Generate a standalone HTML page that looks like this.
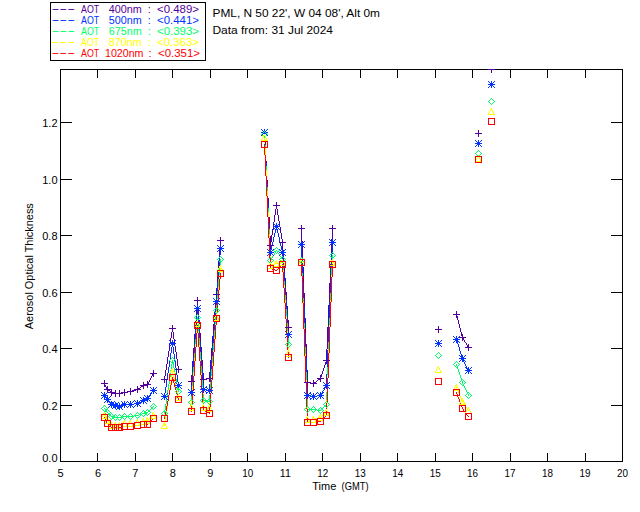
<!DOCTYPE html>
<html lang="en"><head><meta charset="utf-8"><title>Aerosol Optical Thickness - PML</title>
<style>
html,body{margin:0;padding:0;background:#fff;}
body{width:640px;height:512px;overflow:hidden;}
svg{display:block;font-family:"Liberation Sans",sans-serif;font-size:11px;fill:#000;}
.ln{fill:none;stroke-width:1;shape-rendering:crispEdges;stroke-linecap:butt;}
</style></head><body>
<svg width="640" height="512" viewBox="0 0 640 512">
<rect width="640" height="512" fill="#fff"/>
<path id="axes" class="ln" stroke="#000000" d="M50 2.5h156M50 60.5h156M60 69.5h428M495 69.5h127M61 122.5h11M611 122.5h11M61 179.5h11M611 179.5h11M61 235.5h11M611 235.5h11M61 292.5h11M611 292.5h11M61 348.5h11M611 348.5h11M61 405.5h11M611 405.5h11M60 461.5h563M50.5 3v57M60.5 70v391M97.5 70v8M97.5 453v8M135.5 70v8M135.5 453v8M172.5 70v8M172.5 453v8M205.5 3v57M210.5 70v8M210.5 453v8M247.5 70v8M247.5 453v8M285.5 70v8M285.5 453v8M322.5 70v8M322.5 453v8M360.5 70v8M360.5 453v8M397.5 70v8M397.5 453v8M435.5 70v8M435.5 453v8M472.5 70v8M472.5 453v8M510.5 70v8M510.5 453v8M547.5 70v8M547.5 453v8M585.5 70v8M585.5 453v8M622.5 69v392"/>
<path id="aot400" class="ln" stroke="#55009a" d="M488 69.5h7M475 133.5h7M265 142.5h1M273 205.5h7M273 222.5h1M298 228.5h3M302 228.5h3M329 228.5h3M333 228.5h3M217 240.5h3M221 240.5h3M279 242.5h3M283 242.5h3M267 245.5h3M271 245.5h3M283 250.5h1M283 258.5h1M330 264.5h1M284 266.5h1M330 266.5h1M213 294.5h3M217 294.5h3M194 300.5h3M198 300.5h3M453 314.5h7M214 316.5h1M214 319.5h1M195 321.5h1M199 323.5h1M195 325.5h1M195 327.5h1M199 327.5h1M285 327.5h3M289 327.5h3M169 328.5h7M435 329.5h7M459 337.5h7M170 342.5h1M174 342.5h1M465 342.5h1M174 344.5h1M465 347.5h7M323 360.5h3M327 360.5h3M175 369.5h7M150 373.5h7M206 378.5h3M210 378.5h3M317 378.5h7M161 379.5h7M200 379.5h3M204 379.5h3M318 379.5h2M317 380.5h1M188 381.5h3M192 381.5h3M316 381.5h1M304 382.5h3M308 382.5h3M314 382.5h2M101 383.5h7M310 383.5h7M143 384.5h8M105 385.5h1M140 385.5h8M105 386.5h1M141 386.5h2M140 387.5h1M138 388.5h2M104 389.5h8M134 389.5h7M108 390.5h2M132 390.5h4M110 391.5h1M127 391.5h7M108 392.5h8M121 392.5h7M111 393.5h12M104.5 380v3M104.5 384v3M106.5 387v2M107.5 386v3M107.5 390v2M111.5 390v2M111.5 394v2M115.5 390v2M115.5 394v3M119.5 390v3M119.5 394v3M124.5 389v3M124.5 393v3M130.5 388v3M130.5 392v3M137.5 386v3M137.5 390v3M143.5 382v2M143.5 386v3M147.5 381v3M147.5 386v2M148.5 382v2M149.5 380v2M150.5 378v2M151.5 376v2M152.5 374v2M153.5 370v3M153.5 374v3M164.5 376v3M164.5 380v3M165.5 370v6M166.5 364v6M167.5 357v7M168.5 351v6M169.5 344v2M169.5 347v4M170.5 338v3M171.5 332v6M172.5 325v3M172.5 329v3M173.5 332v7M174.5 339v2M175.5 347v5M176.5 352v7M177.5 359v7M178.5 366v3M178.5 370v3M191.5 375v10M192.5 361v10M193.5 348v9M194.5 334v9M196.5 310v5M197.5 297v8M198.5 310v5M199.5 320v2M200.5 333v9M201.5 347v9M202.5 360v9M203.5 373v10M209.5 372v10M210.5 360v11M211.5 348v11M212.5 336v10M213.5 324v9M214.5 312v3M215.5 303v5M216.5 288v10M217.5 277v5M218.5 261v7M219.5 250v5M220.5 237v8M266.5 161v2M267.5 180v3M268.5 198v5M269.5 217v6M270.5 236v13M271.5 235v7M272.5 229v6M273.5 224v2M273.5 227v2M274.5 215v7M275.5 209v6M276.5 202v3M276.5 206v3M277.5 209v6M278.5 215v6M279.5 221v2M279.5 224v2M280.5 227v6M281.5 233v6M282.5 239v10M283.5 254v3M284.5 268v5M285.5 278v9M286.5 292v8M287.5 306v8M288.5 320v11M301.5 225v16M302.5 241v2M302.5 246v11M303.5 267v15M304.5 293v14M305.5 318v15M306.5 344v14M307.5 370v16M313.5 380v3M313.5 384v3M320.5 375v3M320.5 379v3M321.5 374v3M322.5 371v3M323.5 368v3M324.5 365v3M325.5 362v3M326.5 349v15M327.5 327v22M328.5 305v21M329.5 283v19M330.5 268v10M331.5 239v2M331.5 244v9M332.5 225v14M438.5 326v3M438.5 330v3M456.5 311v3M456.5 315v3M457.5 316v4M458.5 320v4M459.5 324v4M460.5 328v4M461.5 332v4M462.5 334v3M462.5 338v3M463.5 338v2M464.5 340v2M466.5 343v2M467.5 345v2M468.5 344v3M468.5 348v3M478.5 130v3M478.5 134v3M491.5 70v3"/>
<path id="aot500" class="ln" stroke="#0033ff" d="M488 81.5h1M494 81.5h1M489 82.5h1M493 82.5h1M490 83.5h1M492 83.5h1M488 84.5h7M490 85.5h1M492 85.5h1M489 86.5h1M493 86.5h1M488 87.5h1M494 87.5h1M261 129.5h1M267 129.5h1M262 130.5h1M266 130.5h1M263 131.5h1M265 131.5h1M261 132.5h2M266 132.5h2M263 133.5h3M262 134.5h1M266 134.5h1M261 135.5h1M267 135.5h1M475 140.5h1M481 140.5h1M476 141.5h1M480 141.5h1M477 142.5h1M479 142.5h1M475 143.5h7M477 144.5h1M479 144.5h1M476 145.5h1M480 145.5h1M475 146.5h1M481 146.5h1M273 223.5h1M279 223.5h1M274 224.5h1M278 224.5h1M275 225.5h1M277 225.5h1M273 226.5h7M275 227.5h1M277 227.5h1M274 228.5h1M278 228.5h1M273 229.5h1M279 229.5h1M329 239.5h1M335 239.5h1M330 240.5h1M334 240.5h1M298 241.5h1M304 241.5h1M331 241.5h1M333 241.5h1M299 242.5h1M303 242.5h1M329 242.5h3M333 242.5h3M300 243.5h1M302 243.5h1M331 243.5h1M333 243.5h1M298 244.5h3M302 244.5h3M330 244.5h1M334 244.5h1M217 245.5h1M223 245.5h1M300 245.5h1M302 245.5h1M329 245.5h1M335 245.5h1M218 246.5h1M222 246.5h1M299 246.5h1M303 246.5h1M219 247.5h1M221 247.5h1M298 247.5h1M304 247.5h1M217 248.5h3M221 248.5h3M219 249.5h1M221 249.5h1M267 249.5h1M273 249.5h1M279 249.5h1M285 249.5h1M218 250.5h1M222 250.5h1M268 250.5h1M272 250.5h1M280 250.5h1M284 250.5h1M217 251.5h1M223 251.5h1M269 251.5h1M271 251.5h1M281 251.5h1M283 251.5h1M267 252.5h7M279 252.5h7M269 253.5h1M271 253.5h1M281 253.5h1M283 253.5h1M332 253.5h1M268 254.5h1M272 254.5h1M280 254.5h1M284 254.5h1M267 255.5h1M273 255.5h1M279 255.5h1M285 255.5h1M302 257.5h1M302 260.5h1M283 266.5h1M331 266.5h1M213 298.5h1M219 298.5h1M214 299.5h1M218 299.5h1M215 300.5h1M217 300.5h1M213 301.5h7M215 302.5h1M217 302.5h1M214 303.5h1M218 303.5h1M213 304.5h1M219 304.5h1M194 305.5h1M200 305.5h1M195 306.5h1M199 306.5h1M196 307.5h1M198 307.5h1M194 308.5h3M198 308.5h3M196 309.5h1M198 309.5h1M195 310.5h1M199 310.5h1M194 311.5h1M200 311.5h1M196 320.5h1M285 331.5h1M291 331.5h1M286 332.5h1M290 332.5h1M287 333.5h1M289 333.5h1M285 334.5h7M287 335.5h1M289 335.5h1M286 336.5h1M290 336.5h1M453 336.5h1M459 336.5h1M285 337.5h1M291 337.5h1M454 337.5h1M458 337.5h1M455 338.5h1M453 339.5h7M169 340.5h1M175 340.5h1M435 340.5h1M441 340.5h1M455 340.5h1M170 341.5h1M174 341.5h1M436 341.5h1M440 341.5h1M454 341.5h1M458 341.5h1M171 342.5h1M173 342.5h1M437 342.5h1M439 342.5h1M453 342.5h1M459 342.5h1M169 343.5h7M435 343.5h7M171 344.5h1M173 344.5h1M437 344.5h1M439 344.5h1M170 345.5h1M174 345.5h1M436 345.5h1M440 345.5h1M169 346.5h1M175 346.5h1M435 346.5h1M441 346.5h1M459 355.5h1M465 355.5h1M460 356.5h1M464 356.5h1M459 358.5h7M174 360.5h1M460 360.5h1M464 360.5h1M459 361.5h1M465 361.5h1M465 367.5h1M471 367.5h1M176 368.5h1M466 368.5h1M470 368.5h1M469 369.5h1M465 370.5h7M469 371.5h1M466 372.5h1M470 372.5h1M465 373.5h1M471 373.5h1M175 382.5h1M181 382.5h1M323 382.5h1M329 382.5h1M176 383.5h1M180 383.5h1M324 383.5h1M328 383.5h1M177 384.5h1M179 384.5h1M327 384.5h1M175 385.5h7M323 385.5h3M327 385.5h3M177 386.5h1M179 386.5h1M200 386.5h1M327 386.5h1M150 387.5h1M156 387.5h1M176 387.5h1M180 387.5h1M201 387.5h1M205 387.5h2M212 387.5h1M324 387.5h1M328 387.5h1M151 388.5h1M155 388.5h1M175 388.5h1M181 388.5h1M202 388.5h1M204 388.5h1M207 388.5h1M211 388.5h1M323 388.5h1M329 388.5h1M152 389.5h1M154 389.5h1M188 389.5h1M194 389.5h1M200 389.5h3M204 389.5h3M208 389.5h1M210 389.5h1M150 390.5h7M189 390.5h1M193 390.5h1M202 390.5h1M204 390.5h1M206 390.5h3M210 390.5h3M323 390.5h1M152 391.5h1M154 391.5h1M190 391.5h1M192 391.5h1M201 391.5h1M205 391.5h1M208 391.5h1M210 391.5h1M101 392.5h1M107 392.5h1M155 392.5h1M188 392.5h3M192 392.5h3M200 392.5h1M206 392.5h2M211 392.5h1M304 392.5h1M317 392.5h1M323 392.5h1M102 393.5h1M106 393.5h1M151 393.5h1M156 393.5h1M161 393.5h1M167 393.5h1M190 393.5h1M192 393.5h1M212 393.5h1M305 393.5h1M309 393.5h2M316 393.5h1M318 393.5h1M322 393.5h1M103 394.5h1M162 394.5h1M166 394.5h1M189 394.5h1M193 394.5h1M306 394.5h1M308 394.5h1M311 394.5h1M315 394.5h1M319 394.5h1M101 395.5h3M105 395.5h2M144 395.5h1M149 395.5h1M163 395.5h1M165 395.5h1M188 395.5h1M194 395.5h1M304 395.5h3M308 395.5h3M312 395.5h1M314 395.5h1M317 395.5h7M103 396.5h1M110 396.5h1M145 396.5h1M149 396.5h1M161 396.5h7M306 396.5h1M308 396.5h1M310 396.5h7M319 396.5h1M102 397.5h1M105 397.5h2M109 397.5h1M140 397.5h1M163 397.5h1M165 397.5h1M305 397.5h1M309 397.5h1M312 397.5h1M314 397.5h1M318 397.5h1M322 397.5h1M101 398.5h1M141 398.5h1M143 398.5h8M162 398.5h1M166 398.5h1M304 398.5h1M310 398.5h2M315 398.5h1M317 398.5h1M323 398.5h1M105 399.5h2M108 399.5h3M142 399.5h7M161 399.5h1M167 399.5h1M316 399.5h1M134 400.5h1M140 400.5h8M149 400.5h1M105 401.5h1M109 401.5h1M114 401.5h1M121 401.5h1M127 401.5h1M133 401.5h1M135 401.5h1M141 401.5h2M144 401.5h1M150 401.5h1M104 402.5h1M109 402.5h2M112 402.5h1M118 402.5h1M126 402.5h1M128 402.5h1M132 402.5h1M136 402.5h1M138 402.5h4M145 402.5h1M110 403.5h1M112 403.5h1M123 403.5h1M125 403.5h1M129 403.5h1M131 403.5h1M134 403.5h7M146 403.5h1M108 404.5h10M121 404.5h13M136 404.5h1M138 404.5h1M110 405.5h16M129 405.5h1M131 405.5h1M135 405.5h1M139 405.5h1M109 406.5h1M113 406.5h10M126 406.5h1M128 406.5h1M132 406.5h1M134 406.5h1M140 406.5h1M108 407.5h1M118 407.5h1M120 407.5h2M127 407.5h1M133 407.5h1M112 408.5h1M116 409.5h1M122 409.5h1M104.5 392v8M105.5 394v1M105.5 396v1M106.5 398v1M106.5 400v1M107.5 395v8M108.5 398v1M108.5 400v2M111.5 401v3M111.5 406v2M113.5 402v2M113.5 407v1M114.5 407v1M115.5 402v2M115.5 407v2M116.5 403v1M117.5 403v1M117.5 407v2M118.5 408v1M119.5 403v2M119.5 407v3M121.5 408v1M122.5 402v2M124.5 401v3M124.5 406v2M130.5 401v3M130.5 405v3M137.5 400v3M137.5 404v3M139.5 401v1M143.5 397v1M143.5 401v3M146.5 397v1M147.5 395v3M147.5 401v1M148.5 396v2M150.5 393v3M151.5 392v1M153.5 387v3M153.5 391v3M164.5 393v3M164.5 397v3M165.5 387v6M166.5 380v7M167.5 373v6M168.5 367v6M169.5 361v6M170.5 353v6M171.5 347v6M172.5 340v3M172.5 344v3M173.5 347v7M174.5 354v5M175.5 361v7M176.5 370v5M177.5 375v7M178.5 382v3M178.5 386v2M191.5 385v11M192.5 371v10M193.5 357v10M194.5 343v10M195.5 329v10M196.5 316v3M196.5 323v2M197.5 305v9M198.5 316v3M198.5 320v2M199.5 329v9M200.5 342v10M201.5 356v10M202.5 369v10M203.5 383v10M206.5 386v1M206.5 393v1M209.5 384v10M210.5 371v7M210.5 379v3M211.5 359v10M212.5 346v10M213.5 333v10M214.5 322v8M215.5 309v3M215.5 313v2M216.5 298v3M216.5 302v3M217.5 282v9M218.5 272v4M218.5 277v2M219.5 255v2M219.5 258v3M219.5 262v4M220.5 245v10M264.5 129v2M264.5 132v1M265.5 143v2M266.5 163v3M267.5 183v4M268.5 203v5M269.5 223v6M270.5 249v3M270.5 253v3M271.5 246v4M272.5 242v3M273.5 237v5M274.5 233v4M275.5 229v4M276.5 223v3M276.5 227v3M277.5 229v4M278.5 233v4M279.5 237v5M280.5 243v3M281.5 246v4M282.5 249v3M282.5 253v3M282.5 257v2M283.5 259v2M283.5 263v2M284.5 273v8M285.5 287v8M286.5 300v9M287.5 314v9M288.5 331v3M288.5 335v3M301.5 241v16M302.5 263v2M302.5 266v7M303.5 282v16M304.5 307v16M305.5 333v14M306.5 358v14M307.5 386v13M310.5 392v1M310.5 399v1M313.5 393v3M313.5 397v3M320.5 392v3M320.5 396v3M321.5 393v2M321.5 396v1M322.5 391v2M324.5 388v2M325.5 384v1M325.5 386v2M326.5 374v15M327.5 350v10M327.5 361v6M328.5 326v16M329.5 302v16M330.5 278v15M331.5 254v3M331.5 258v2M331.5 262v3M332.5 239v13M438.5 340v3M438.5 344v3M456.5 336v3M456.5 340v3M457.5 338v1M457.5 340v4M458.5 344v3M459.5 347v4M460.5 351v3M461.5 354v4M461.5 359v1M462.5 355v3M462.5 359v3M463.5 357v1M463.5 359v3M464.5 362v2M465.5 364v2M466.5 366v2M467.5 368v2M467.5 371v1M468.5 367v3M468.5 371v3M478.5 140v3M478.5 144v3M491.5 81v3M491.5 85v3"/>
<path id="aot675" class="ln" stroke="#00ff6a" d="M491 98.5h1M490 99.5h1M492 99.5h1M489 100.5h1M493 100.5h1M488 101.5h1M494 101.5h1M489 102.5h1M493 102.5h1M490 103.5h1M492 103.5h1M491 104.5h1M264 131.5h1M263 132.5h1M265 132.5h1M262 133.5h1M266 133.5h1M261 134.5h1M267 134.5h1M262 135.5h1M266 135.5h1M478 150.5h1M477 151.5h1M479 151.5h1M476 152.5h1M480 152.5h1M475 153.5h1M481 153.5h1M476 154.5h1M480 154.5h1M477 155.5h1M479 155.5h1M276 247.5h1M275 248.5h1M277 248.5h1M274 249.5h1M278 249.5h1M273 250.5h1M276 250.5h1M279 250.5h1M274 251.5h2M277 251.5h2M332 252.5h1M276 253.5h1M278 253.5h1M331 253.5h1M333 253.5h1M279 254.5h1M330 254.5h1M334 254.5h1M329 255.5h1M335 255.5h1M220 256.5h1M280 256.5h1M282 256.5h1M330 256.5h1M334 256.5h1M219 257.5h1M221 257.5h1M270 257.5h1M283 257.5h1M301 257.5h1M331 257.5h1M333 257.5h1M218 258.5h1M222 258.5h1M269 258.5h1M280 258.5h2M284 258.5h1M300 258.5h1M302 258.5h1M217 259.5h1M223 259.5h1M268 259.5h1M271 259.5h2M279 259.5h1M285 259.5h1M218 260.5h1M222 260.5h1M267 260.5h1M273 260.5h1M280 260.5h1M284 260.5h1M219 261.5h1M221 261.5h1M268 261.5h1M272 261.5h1M299 261.5h1M301 261.5h1M303 261.5h1M269 262.5h1M271 262.5h1M282 262.5h1M300 262.5h1M301 263.5h1M215 308.5h1M217 308.5h1M214 309.5h1M218 309.5h1M213 310.5h1M219 310.5h1M214 311.5h1M218 311.5h1M215 312.5h1M217 312.5h1M216 313.5h1M197 314.5h1M196 315.5h1M198 315.5h1M195 316.5h1M199 316.5h1M194 317.5h1M200 317.5h1M195 318.5h1M199 318.5h1M196 319.5h3M196 325.5h1M196 327.5h1M198 327.5h1M196 329.5h1M287 342.5h1M289 342.5h1M286 343.5h1M290 343.5h1M285 344.5h1M291 344.5h1M286 345.5h1M290 345.5h1M287 346.5h1M289 346.5h1M288 347.5h1M438 352.5h1M437 353.5h1M439 353.5h1M436 354.5h1M440 354.5h1M435 355.5h1M441 355.5h1M436 356.5h1M440 356.5h1M172 357.5h1M437 357.5h1M439 357.5h1M171 358.5h1M173 358.5h1M438 358.5h1M170 359.5h1M174 359.5h1M169 360.5h1M175 360.5h1M170 361.5h1M174 361.5h1M456 361.5h1M171 362.5h1M455 362.5h1M457 362.5h1M454 363.5h1M458 363.5h1M453 364.5h1M459 364.5h1M454 365.5h1M458 365.5h1M455 366.5h1M456 367.5h1M170 370.5h1M170 373.5h1M175 373.5h1M462 379.5h1M463 380.5h1M460 381.5h1M464 381.5h1M459 382.5h1M465 382.5h1M460 383.5h1M464 383.5h1M461 384.5h1M462 385.5h2M177 389.5h1M179 389.5h1M176 390.5h1M180 390.5h1M175 391.5h1M181 391.5h1M176 392.5h1M180 392.5h1M467 392.5h2M177 393.5h1M179 393.5h1M469 393.5h1M466 394.5h1M470 394.5h1M465 395.5h1M471 395.5h1M466 396.5h1M470 396.5h1M166 397.5h1M467 397.5h1M469 397.5h1M202 398.5h1M204 398.5h1M468 398.5h1M201 399.5h1M208 399.5h1M210 399.5h1M190 400.5h1M192 400.5h1M200 400.5h1M204 400.5h4M211 400.5h1M189 401.5h1M193 401.5h1M201 401.5h1M205 401.5h4M212 401.5h1M326 401.5h1M188 402.5h1M194 402.5h1M202 402.5h1M204 402.5h1M211 402.5h1M325 402.5h1M327 402.5h1M153 403.5h1M189 403.5h1M193 403.5h1M203 403.5h1M208 403.5h1M210 403.5h1M324 403.5h1M328 403.5h1M152 404.5h1M154 404.5h1M190 404.5h1M192 404.5h1M209 404.5h1M323 404.5h1M329 404.5h1M104 405.5h1M151 405.5h1M155 405.5h1M324 405.5h2M328 405.5h1M103 406.5h1M105 406.5h1M150 406.5h1M153 406.5h1M156 406.5h1M313 406.5h1M324 406.5h2M327 406.5h1M102 407.5h1M106 407.5h1M151 407.5h2M155 407.5h1M306 407.5h1M308 407.5h1M312 407.5h1M314 407.5h1M320 407.5h1M323 407.5h1M326 407.5h1M101 408.5h1M104 408.5h1M151 408.5h2M154 408.5h1M305 408.5h1M319 408.5h1M321 408.5h2M102 409.5h1M105 409.5h3M147 409.5h1M150 409.5h1M153 409.5h1M304 409.5h1M308 409.5h9M321 409.5h2M103 410.5h1M108 410.5h1M143 410.5h1M146 410.5h1M148 410.5h2M305 410.5h1M317 410.5h4M323 410.5h1M104 411.5h3M109 411.5h1M142 411.5h1M148 411.5h2M163 411.5h1M165 411.5h1M306 411.5h1M308 411.5h1M312 411.5h1M314 411.5h1M322 411.5h1M107 412.5h1M110 412.5h1M137 412.5h1M141 412.5h1M144 412.5h4M150 412.5h1M162 412.5h1M166 412.5h1M307 412.5h1M313 412.5h1M319 412.5h1M321 412.5h1M105 413.5h1M108 413.5h1M111 413.5h1M124 413.5h1M130 413.5h1M136 413.5h1M138 413.5h1M142 413.5h5M149 413.5h1M161 413.5h1M167 413.5h1M320 413.5h1M108 414.5h3M112 414.5h1M115 414.5h1M119 414.5h1M123 414.5h1M125 414.5h1M129 414.5h1M131 414.5h1M139 414.5h3M148 414.5h1M162 414.5h1M166 414.5h1M110 415.5h1M116 415.5h1M118 415.5h1M120 415.5h1M134 415.5h5M142 415.5h1M144 415.5h1M147 415.5h1M108 416.5h1M111 416.5h4M121 416.5h13M139 416.5h1M143 416.5h1M164 416.5h1M109 417.5h1M112 417.5h11M136 417.5h1M138 417.5h1M110 418.5h1M123 418.5h1M125 418.5h1M129 418.5h1M131 418.5h1M137 418.5h1M111 419.5h1M114 419.5h1M116 419.5h1M118 419.5h1M120 419.5h1M124 419.5h1M130 419.5h1M115 420.5h1M119 420.5h1M105.5 410v1M106.5 410v1M107.5 408v1M109.5 413v1M109.5 415v1M112.5 418v1M113.5 415v1M113.5 418v1M114.5 415v1M117.5 416v1M117.5 418v1M121.5 418v1M122.5 415v1M126.5 415v1M126.5 417v1M128.5 415v1M128.5 417v1M132.5 415v1M132.5 417v1M135.5 414v1M135.5 416v1M140.5 413v1M140.5 415v1M144.5 411v1M145.5 411v1M145.5 414v1M146.5 414v1M164.5 410v4M165.5 404v6M166.5 399v5M167.5 390v3M167.5 394v2M168.5 384v6M169.5 381v3M170.5 375v2M171.5 364v5M172.5 360v4M173.5 362v6M174.5 368v4M176.5 379v4M177.5 387v2M178.5 388v4M191.5 396v4M192.5 382v4M193.5 367v5M194.5 353v5M195.5 339v5M197.5 317v2M198.5 324v2M198.5 329v2M199.5 338v7M200.5 352v7M201.5 366v7M202.5 380v7M203.5 394v7M205.5 399v1M207.5 402v1M209.5 395v7M210.5 382v7M211.5 369v7M212.5 356v7M213.5 343v7M214.5 330v7M215.5 317v3M215.5 322v2M216.5 305v6M217.5 291v3M217.5 295v4M218.5 279v8M219.5 268v2M219.5 272v3M220.5 259v6M264.5 136v2M265.5 145v2M266.5 166v4M267.5 187v4M268.5 208v4M269.5 229v5M271.5 258v1M272.5 256v2M274.5 253v2M275.5 252v1M277.5 252v1M281.5 257v1M283.5 268v2M284.5 281v4M285.5 295v5M286.5 309v7M287.5 323v4M287.5 328v3M288.5 338v7M302.5 273v3M303.5 298v4M304.5 323v5M305.5 347v7M306.5 372v8M307.5 399v8M309.5 408v1M309.5 410v1M311.5 408v1M311.5 410v1M315.5 408v1M315.5 410v1M318.5 409v1M318.5 411v1M326.5 392v8M327.5 367v8M328.5 342v8M329.5 318v7M330.5 293v7M331.5 268v7M332.5 255v4M456.5 364v2M457.5 366v3M458.5 369v3M459.5 372v3M460.5 375v3M461.5 378v3M462.5 381v3M463.5 384v1M464.5 386v2M465.5 388v2M466.5 390v2M467.5 393v1M468.5 394v2"/>
<path id="aot870" class="ln" stroke="#ffff00" d="M490 109.5h2M488 114.5h7M263 135.5h2M261 140.5h7M478 155.5h1M477 157.5h1M476 161.5h5M270 256.5h1M281 260.5h2M300 260.5h2M331 260.5h2M276 261.5h1M280 262.5h2M283 262.5h1M332 262.5h2M269 263.5h2M274 263.5h5M282 263.5h1M271 264.5h4M280 265.5h5M330 265.5h5M219 266.5h2M268 266.5h1M274 266.5h5M220 268.5h2M268 268.5h5M222 269.5h1M218 271.5h5M219 275.5h1M217 299.5h1M303 302.5h1M216 314.5h1M215 316.5h1M214 320.5h5M196 321.5h2M197 323.5h2M215 324.5h1M195 326.5h5M304 328.5h1M288 346.5h1M287 351.5h1M286 353.5h1M286 356.5h5M437 367.5h2M171 369.5h2M173 371.5h1M435 372.5h7M169 373.5h1M211 379.5h1M174 381.5h1M455 385.5h2M175 386.5h1M202 387.5h1M456 387.5h2M458 388.5h1M454 390.5h5M210 392.5h1M177 395.5h2M178 397.5h2M176 400.5h5M326 400.5h1M461 400.5h1M168 401.5h1M326 402.5h1M459 404.5h7M190 405.5h1M202 405.5h2M204 406.5h1M209 406.5h1M189 407.5h1M466 407.5h1M201 408.5h1M207 408.5h1M467 408.5h2M211 409.5h1M189 410.5h5M201 410.5h5M325 410.5h2M468 410.5h2M166 411.5h1M207 411.5h5M327 411.5h1M465 412.5h1M103 413.5h2M152 413.5h2M166 413.5h1M325 413.5h1M154 414.5h1M104 415.5h1M320 415.5h1M322 415.5h1M324 415.5h5M152 416.5h1M306 417.5h2M312 417.5h2M318 417.5h4M102 418.5h5M147 418.5h1M149 418.5h1M151 418.5h5M308 418.5h1M314 418.5h3M108 419.5h1M142 419.5h2M136 420.5h2M144 420.5h5M305 420.5h1M311 420.5h1M318 420.5h5M105 421.5h1M108 421.5h1M123 421.5h2M129 421.5h2M138 421.5h1M125 422.5h1M131 422.5h1M141 422.5h1M305 422.5h5M311 422.5h5M105 423.5h5M114 423.5h2M118 423.5h2M135 423.5h1M147 423.5h3M163 423.5h1M128 424.5h1M141 424.5h3M163 424.5h1M165 424.5h1M109 425.5h1M111 425.5h1M115 425.5h1M119 425.5h2M135 425.5h5M165 425.5h1M123 426.5h4M128 426.5h5M109 428.5h3M115 428.5h1M119 428.5h2M161 428.5h7M102.5 415v2M104.5 412v1M105.5 415v3M106.5 416v2M106.5 419v1M109.5 421v2M111.5 422v2M113.5 425v4M115.5 422v1M117.5 425v4M119.5 422v1M123.5 422v1M124.5 420v1M126.5 424v2M129.5 422v1M130.5 420v1M132.5 424v2M136.5 421v1M137.5 419v1M139.5 423v2M142.5 420v1M143.5 418v1M145.5 422v3M146.5 418v2M147.5 417v1M148.5 419v1M149.5 422v1M151.5 416v2M152.5 414v1M153.5 412v1M155.5 416v2M161.5 427v1M162.5 425v2M164.5 422v4M165.5 416v5M166.5 426v2M167.5 406v3M169.5 388v2M170.5 371v2M170.5 382v3M171.5 370v1M171.5 375v5M172.5 368v1M172.5 371v3M173.5 370v1M173.5 375v3M174.5 372v2M174.5 378v2M175.5 383v2M176.5 388v2M176.5 397v2M177.5 391v2M178.5 394v1M180.5 398v2M190.5 406v1M191.5 400v6M192.5 386v4M192.5 406v2M193.5 372v4M193.5 409v1M194.5 358v3M195.5 323v2M195.5 344v3M196.5 330v3M197.5 320v1M197.5 324v1M198.5 331v2M199.5 324v2M199.5 345v2M200.5 359v2M201.5 373v2M202.5 406v1M203.5 401v2M203.5 404v1M205.5 408v2M207.5 409v1M208.5 406v3M209.5 402v2M209.5 405v1M210.5 407v2M211.5 376v2M212.5 363v3M213.5 350v2M214.5 317v2M214.5 337v2M216.5 311v2M217.5 316v2M218.5 268v2M218.5 287v3M218.5 318v2M219.5 267v1M219.5 277v2M220.5 265v1M220.5 269v1M220.5 272v1M221.5 267v1M261.5 139v1M262.5 137v2M263.5 136v1M264.5 134v1M264.5 138v2M264.5 142v2M265.5 136v2M265.5 148v7M266.5 138v2M266.5 170v6M267.5 191v5M268.5 212v5M269.5 234v4M269.5 264v1M270.5 262v1M272.5 266v2M275.5 261v2M276.5 260v1M277.5 262v1M278.5 264v2M280.5 263v1M282.5 259v1M283.5 270v2M284.5 263v2M284.5 285v3M285.5 300v3M286.5 316v3M287.5 331v2M287.5 352v1M288.5 348v4M289.5 352v2M290.5 355v1M299.5 262v2M300.5 261v1M302.5 261v2M303.5 263v2M305.5 354v2M306.5 380v2M306.5 418v1M307.5 407v2M307.5 416v1M309.5 420v2M312.5 418v1M313.5 416v1M315.5 420v2M319.5 415v2M320.5 414v1M321.5 416v1M322.5 419v1M324.5 413v2M325.5 411v1M326.5 409v1M327.5 375v3M328.5 350v3M328.5 413v2M329.5 325v2M330.5 262v2M330.5 300v2M331.5 275v2M332.5 259v1M332.5 263v1M334.5 263v2M435.5 371v1M436.5 369v2M437.5 368v1M438.5 366v1M439.5 368v2M440.5 370v2M454.5 387v2M455.5 386v1M456.5 384v1M456.5 388v1M457.5 386v1M458.5 391v2M459.5 403v1M460.5 396v2M460.5 401v2M461.5 398v2M462.5 398v4M463.5 400v4M464.5 402v2M466.5 410v2M467.5 409v1M468.5 407v1M469.5 409v1M470.5 411v2M476.5 158v2M479.5 157v2M480.5 159v2M488.5 113v1M489.5 111v2M490.5 110v1M491.5 108v1M492.5 110v2M493.5 112v2"/>
<path id="aot1020" class="ln" stroke="#ff0000" d="M488 118.5h7M488 124.5h7M261 141.5h7M261 147.5h3M265 147.5h3M475 156.5h7M475 162.5h7M298 259.5h7M280 261.5h6M329 261.5h7M301 262.5h1M282 264.5h1M332 264.5h1M267 265.5h6M298 265.5h3M302 265.5h3M280 266.5h1M273 267.5h13M329 267.5h3M333 267.5h3M278 268.5h1M272 269.5h1M274 269.5h1M277 269.5h1M217 270.5h7M275 270.5h2M267 271.5h6M274 273.5h5M217 276.5h7M218 300.5h1M213 315.5h7M213 321.5h7M194 322.5h7M197 325.5h1M194 328.5h7M286 333.5h1M285 354.5h7M288 357.5h1M285 360.5h7M169 374.5h7M435 378.5h7M212 379.5h1M169 380.5h7M435 384.5h7M175 387.5h1M201 388.5h1M175 389.5h1M211 389.5h1M453 389.5h7M192 390.5h1M176 391.5h1M211 391.5h1M176 393.5h1M177 394.5h1M453 395.5h7M175 396.5h7M175 402.5h7M460 403.5h1M459 405.5h7M200 407.5h6M188 408.5h7M306 408.5h1M326 408.5h1M207 410.5h6M191 411.5h1M205 411.5h1M459 411.5h7M207 412.5h3M324 412.5h6M200 413.5h6M465 413.5h7M101 414.5h7M188 414.5h7M466 414.5h1M151 415.5h6M161 415.5h7M467 415.5h1M207 416.5h6M325 416.5h1M468 416.5h1M104 417.5h1M324 417.5h1M317 418.5h13M152 419.5h1M304 419.5h14M465 419.5h7M101 420.5h10M151 420.5h1M140 421.5h17M161 421.5h7M318 421.5h3M134 422.5h6M121 423.5h14M108 424.5h15M147 424.5h1M316 424.5h7M304 425.5h13M104 426.5h7M111 427.5h1M115 427.5h1M119 427.5h2M140 427.5h10M133 428.5h8M121 429.5h13M108 430.5h15M101.5 415v5M104.5 421v5M105.5 419v1M106.5 421v2M107.5 415v5M108.5 425v1M108.5 427v3M110.5 421v3M110.5 425v1M112.5 425v5M114.5 425v5M116.5 425v5M118.5 425v5M121.5 425v4M122.5 425v4M127.5 424v5M133.5 424v4M134.5 424v4M140.5 422v5M144.5 422v5M146.5 422v5M150.5 415v6M150.5 422v6M156.5 416v5M161.5 416v5M164.5 417v2M165.5 412v3M166.5 406v5M167.5 401v5M167.5 416v5M168.5 395v6M169.5 375v5M169.5 390v5M170.5 385v5M171.5 381v4M172.5 377v3M173.5 379v1M173.5 381v2M174.5 383v4M175.5 375v5M175.5 397v5M177.5 397v1M178.5 398v2M181.5 397v5M188.5 409v5M191.5 406v2M191.5 409v1M192.5 394v6M192.5 401v3M193.5 376v5M193.5 382v8M194.5 323v5M194.5 361v15M194.5 409v5M195.5 347v14M196.5 333v14M197.5 327v1M197.5 329v4M198.5 333v14M199.5 347v14M200.5 323v5M200.5 361v14M200.5 408v5M201.5 375v4M201.5 380v7M202.5 391v7M202.5 399v3M203.5 406v1M203.5 408v2M206.5 407v10M209.5 407v3M209.5 413v1M210.5 393v6M210.5 400v3M210.5 404v3M211.5 380v8M212.5 366v12M212.5 411v5M213.5 316v5M213.5 352v14M214.5 339v13M215.5 325v14M216.5 316v4M216.5 322v3M217.5 271v5M217.5 303v5M217.5 309v3M218.5 290v4M218.5 295v4M219.5 279v11M219.5 316v5M220.5 273v3M220.5 277v2M223.5 271v5M261.5 142v5M264.5 144v11M265.5 155v21M266.5 176v20M267.5 142v5M267.5 196v21M267.5 266v5M268.5 217v21M269.5 238v7M269.5 246v5M269.5 254v4M270.5 258v4M270.5 264v1M270.5 266v2M273.5 265v2M273.5 268v6M279.5 261v6M279.5 268v6M282.5 266v1M282.5 268v4M283.5 272v16M284.5 288v15M285.5 262v5M285.5 303v16M285.5 355v5M286.5 319v8M286.5 328v4M287.5 336v6M287.5 343v3M287.5 347v3M288.5 352v2M288.5 355v1M291.5 355v5M298.5 260v5M301.5 264v12M302.5 276v27M303.5 303v26M304.5 260v5M304.5 329v27M304.5 420v5M305.5 356v26M306.5 383v11M306.5 397v10M307.5 409v3M307.5 413v3M307.5 418v1M307.5 420v2M310.5 420v5M316.5 420v4M317.5 420v4M323.5 412v6M323.5 419v6M326.5 403v4M326.5 411v1M326.5 413v2M327.5 378v6M327.5 387v15M328.5 353v7M328.5 361v17M329.5 262v5M329.5 327v26M329.5 413v5M330.5 302v25M331.5 277v25M332.5 266v11M335.5 262v5M435.5 379v5M441.5 379v5M453.5 390v5M456.5 392v2M457.5 394v1M457.5 396v1M458.5 397v2M459.5 390v5M459.5 399v3M459.5 406v5M461.5 406v1M462.5 407v2M463.5 409v2M465.5 406v5M465.5 414v5M471.5 414v5M475.5 157v5M481.5 157v5M488.5 119v5M494.5 119v5"/>
<text x="60.5" y="477" text-anchor="middle">5</text>
<text x="98.0" y="477" text-anchor="middle">6</text>
<text x="135.4" y="477" text-anchor="middle">7</text>
<text x="172.9" y="477" text-anchor="middle">8</text>
<text x="210.4" y="477" text-anchor="middle">9</text>
<text x="247.8" y="477" text-anchor="middle" textLength="11" lengthAdjust="spacingAndGlyphs">10</text>
<text x="285.3" y="477" text-anchor="middle" textLength="11" lengthAdjust="spacingAndGlyphs">11</text>
<text x="322.8" y="477" text-anchor="middle" textLength="11" lengthAdjust="spacingAndGlyphs">12</text>
<text x="360.2" y="477" text-anchor="middle" textLength="11" lengthAdjust="spacingAndGlyphs">13</text>
<text x="397.7" y="477" text-anchor="middle" textLength="11" lengthAdjust="spacingAndGlyphs">14</text>
<text x="435.2" y="477" text-anchor="middle" textLength="11" lengthAdjust="spacingAndGlyphs">15</text>
<text x="472.6" y="477" text-anchor="middle" textLength="11" lengthAdjust="spacingAndGlyphs">16</text>
<text x="510.1" y="477" text-anchor="middle" textLength="11" lengthAdjust="spacingAndGlyphs">17</text>
<text x="547.6" y="477" text-anchor="middle" textLength="11" lengthAdjust="spacingAndGlyphs">18</text>
<text x="585.0" y="477" text-anchor="middle" textLength="11" lengthAdjust="spacingAndGlyphs">19</text>
<text x="622.5" y="477" text-anchor="middle" textLength="11" lengthAdjust="spacingAndGlyphs">20</text>
<text x="57.5" y="462.0" text-anchor="end">0.0</text>
<text x="57.5" y="409.5" text-anchor="end">0.2</text>
<text x="57.5" y="353.0" text-anchor="end">0.4</text>
<text x="57.5" y="296.5" text-anchor="end">0.6</text>
<text x="57.5" y="240.0" text-anchor="end">0.8</text>
<text x="57.5" y="183.5" text-anchor="end">1.0</text>
<text x="57.5" y="127.0" text-anchor="end">1.2</text>
<text y="490"><tspan x="312.3" textLength="24" lengthAdjust="spacingAndGlyphs">Time</tspan> <tspan x="341.6" textLength="27" lengthAdjust="spacingAndGlyphs">(GMT)</tspan></text>
<text transform="translate(33 266.2) rotate(-90)" text-anchor="middle" textLength="126" lengthAdjust="spacingAndGlyphs">Aerosol Optical Thickness</text>
<text x="212.5" y="16.5" textLength="167.5" lengthAdjust="spacingAndGlyphs">PML, N 50 22', W 04 08', Alt 0m</text>
<text x="212.5" y="34" textLength="120.5" lengthAdjust="spacingAndGlyphs">Data from: 31 Jul 2024</text>
<text y="13" fill="#55009a"><tspan x="51.4" dy="-0.9" textLength="24" lengthAdjust="spacingAndGlyphs">---</tspan> <tspan x="81" dy="0.9" textLength="18" lengthAdjust="spacingAndGlyphs">AOT</tspan> <tspan x="108.8" textLength="33" lengthAdjust="spacingAndGlyphs">400nm</tspan> <tspan x="147.8">:</tspan> <tspan x="157" textLength="42" lengthAdjust="spacingAndGlyphs">&lt;0.489&gt;</tspan></text>
<text y="24" fill="#0033ff"><tspan x="51.4" dy="-0.9" textLength="24" lengthAdjust="spacingAndGlyphs">---</tspan> <tspan x="81" dy="0.9" textLength="18" lengthAdjust="spacingAndGlyphs">AOT</tspan> <tspan x="108.8" textLength="33" lengthAdjust="spacingAndGlyphs">500nm</tspan> <tspan x="147.8">:</tspan> <tspan x="157" textLength="42" lengthAdjust="spacingAndGlyphs">&lt;0.441&gt;</tspan></text>
<text y="35" fill="#00ff6a"><tspan x="51.4" dy="-0.9" textLength="24" lengthAdjust="spacingAndGlyphs">---</tspan> <tspan x="81" dy="0.9" textLength="18" lengthAdjust="spacingAndGlyphs">AOT</tspan> <tspan x="108.8" textLength="33" lengthAdjust="spacingAndGlyphs">675nm</tspan> <tspan x="147.8">:</tspan> <tspan x="157" textLength="42" lengthAdjust="spacingAndGlyphs">&lt;0.393&gt;</tspan></text>
<text y="46" fill="#ffff00"><tspan x="51.4" dy="-0.9" textLength="24" lengthAdjust="spacingAndGlyphs">---</tspan> <tspan x="81" dy="0.9" textLength="18" lengthAdjust="spacingAndGlyphs">AOT</tspan> <tspan x="108.8" textLength="33" lengthAdjust="spacingAndGlyphs">870nm</tspan> <tspan x="147.8">:</tspan> <tspan x="157" textLength="42" lengthAdjust="spacingAndGlyphs">&lt;0.363&gt;</tspan></text>
<text y="57" fill="#ff0000"><tspan x="51.4" dy="-0.9" textLength="24" lengthAdjust="spacingAndGlyphs">---</tspan> <tspan x="81" dy="0.9" textLength="18" lengthAdjust="spacingAndGlyphs">AOT</tspan> <tspan x="105" textLength="38.5" lengthAdjust="spacingAndGlyphs">1020nm</tspan> <tspan x="148.5">:</tspan> <tspan x="158" textLength="42" lengthAdjust="spacingAndGlyphs">&lt;0.351&gt;</tspan></text>
</svg></body></html>
